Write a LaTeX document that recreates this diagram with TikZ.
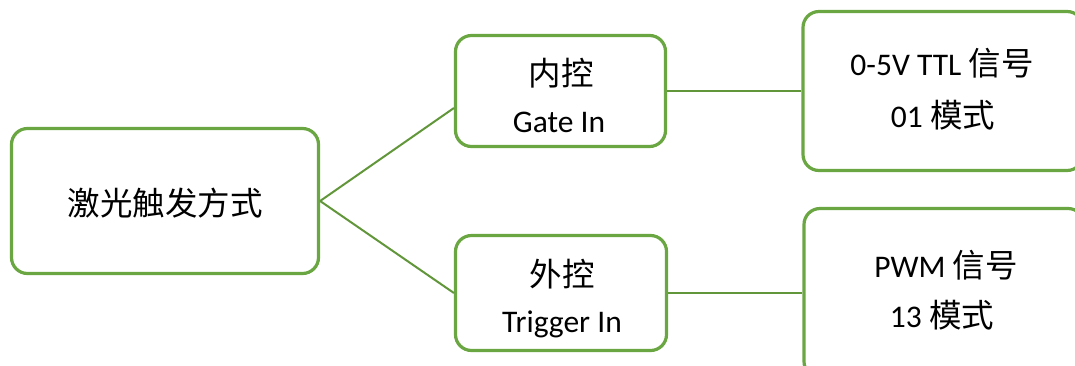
\documentclass[tikz,border=0pt]{standalone}
\usepackage{fontspec}
\setmainfont{Carlito}
\newfontfamily\cjk{Noto Sans CJK SC}
\definecolor{boxgreen}{RGB}{106,166,66}
\definecolor{linegreen}{RGB}{98,150,58}
\newcommand{\hanfont}{\cjk\fontsize{32.5}{38}\selectfont}
\begin{document}
\begin{tikzpicture}[x=1pt,y=-1pt,
  box/.style={draw=boxgreen, line width=3.2pt, rounded corners=16pt, fill=white, inner sep=0pt},
  link/.style={draw=linegreen, line width=2pt},
  lat/.style={font=\fontsize{31.5}{38}\selectfont, anchor=base, inner sep=0pt},
  han/.style={font=\hanfont, anchor=center, inner sep=0pt}]
\useasboundingbox (0,0) rectangle (1075,365);
\clip (0,0) rectangle (1075,365);
% boxes
\node[box, minimum width=307pt, minimum height=145pt] (root) at (165,201) {};
\node[box, minimum width=210pt, minimum height=111pt] (mt) at (560.5,91) {};
\node[box, minimum width=211pt, minimum height=115pt] (mb) at (561,293) {};
\node[box, minimum width=280pt, minimum height=159pt] (rt) at (943,91) {};
\node[box, minimum width=280pt, minimum height=169pt] (rb) at (944,293) {};
% connectors
\draw[link] (root.east) -- ([yshift=-17pt]mt.west);
\draw[link] (root.east) -- (mb.west);
\draw[link] (mt.east) -- (rt.west);
\draw[link] (mb.east) -- (rb.west);
% texts
\node[han] (t1) at (165,203) {激光触发方式};
\node[han] (t2) at (561,73) {内控};
\node[lat] (t3) at (559,132) {Gate In};
\node[han] (t4) at (562,274) {外控};
\node[lat] (t5) at (562,332) {Trigger In};
\node[lat] (t6) at (942,75) {0-5V TTL {\hanfont 信号}};
\node[lat] (t7) at (943,127) {01 {\hanfont 模式}};
\node[lat] (t8) at (946,277) {PWM {\hanfont 信号}};
\node[lat] (t9) at (942,327) {13 {\hanfont 模式}};
\end{tikzpicture}
\end{document}
